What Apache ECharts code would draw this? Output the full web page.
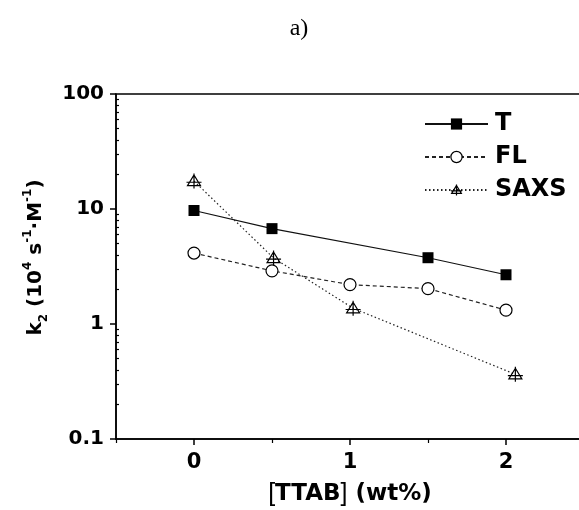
<!DOCTYPE html>
<html>
<head>
<meta charset="utf-8">
<script src="https://cdn.jsdelivr.net/npm/echarts@6/dist/echarts.min.js"></script>
<style>html,body{margin:0;padding:0;background:#fff}#c{width:579px;height:510px}</style>
</head>
<body>
<div id="c"></div>
<script>
// Data
const seriesNames = ['T', 'FL', 'SAXS'];
const tX = [0, 0.5, 1.5, 2];
const tY = [9.7, 6.75, 3.77, 2.68];
const flX = [0, 0.5, 1, 1.5, 2];
const flY = [4.14, 2.9, 2.2, 2.03, 1.32];
const saxsX = [0, 0.51, 1.02, 2.06];
const saxsY = [17.5, 3.75, 1.37, 0.365];
const xMajorTicks = [0, 1, 2];
const xMinorTicks = [-0.5, 0.5, 1.5, 2.5];
const yMajorTicks = [0.1, 1, 10, 100];
const yMinorTicks = [0.2,0.3,0.4,0.5,0.6,0.7,0.8,0.9,2,3,4,5,6,7,8,9,20,30,40,50,60,70,80,90];

const pair = (xs, ys) => xs.map((x, i) => [x, ys[i]]);
const FONT = '"DejaVu Sans", "Liberation Sans", Arial, sans-serif';
const chart = echarts.init(document.getElementById('c'), null, {renderer: 'canvas'});

const triPath = 'path://M0,-6L6.5,5L-6.5,5Z M0,-7.5L0,8 M-7.5,1.5L7.5,1.5';
const hollow = {color: 'rgba(255,255,255,0)', borderColor: '#000', borderWidth: 1.2};

chart.setOption({
  animation: false,
  backgroundColor: '#fff',
  title: {
    text: 'a)', left: 294, top: 12, textAlign: 'center',
    textStyle: {fontFamily: '"Liberation Serif", "Times New Roman", serif', fontSize: 24, fontWeight: 'normal', color: '#000'}
  },
  grid: {left: 116, right: -5, top: 94, bottom: 71, show: true, borderColor: '#000', borderWidth: 1.5, outerBoundsMode: 'none'},
  legend: {
    orient: 'vertical', left: 424, top: 112, padding: 0, itemWidth: 63, itemHeight: 14, itemGap: 9,
    textStyle: {fontFamily: FONT, fontSize: 24, fontWeight: 'bold', color: '#000', padding: [0, 0, 0, 2]},
    data: [
      {name: 'T'},
      {name: 'FL', itemStyle: {color: '#fff', borderColor: '#000', borderWidth: 1.2}},
      {name: 'SAXS', itemStyle: hollow}
    ]
  },
  xAxis: [{
    type: 'value', min: -0.5, max: 2.5, interval: 0.5,
    axisLine: {onZero: false, lineStyle: {color: '#000', width: 1.5}},
    axisTick: {customValues: xMajorTicks, length: 6, lineStyle: {color: '#000', width: 1.5}},
    axisLabel: {customValues: xMajorTicks, margin: 13, fontFamily: FONT, fontSize: 21, fontWeight: 'bold', color: '#000'},
    splitLine: {show: false},
    name: '{br|[}{b|TTAB}{br|]}{b| (wt%)}', nameLocation: 'middle', nameGap: 43,
    nameTextStyle: {
      rich: {
        b: {fontFamily: FONT, fontSize: 23, fontWeight: 'bold', color: '#000'},
        br: {fontFamily: '"Liberation Sans", Arial, sans-serif', fontSize: 25, fontWeight: 'normal', color: '#000'}
      }
    }
  }, {
    type: 'value', min: -0.5, max: 2.5, interval: 0.5, position: 'bottom',
    axisLine: {show: false, onZero: false},
    axisTick: {customValues: xMinorTicks, length: 4, lineStyle: {color: '#000', width: 1.2}},
    axisLabel: {show: false}, splitLine: {show: false}
  }],
  yAxis: [{
    type: 'log', logBase: 10, min: 0.1, max: 100,
    axisLine: {show: true, onZero: false, lineStyle: {color: '#000', width: 1.5}},
    axisTick: {show: true, customValues: yMajorTicks, length: 6, lineStyle: {color: '#000', width: 1.5}},
    axisLabel: {customValues: yMajorTicks, margin: 12, fontFamily: FONT, fontSize: 20, fontWeight: 'bold', color: '#000',
      formatter: v => String(v)},
    splitLine: {show: false},
    name: '{b|k}{sub|2}{b| (10}{sup|4}{b| s}{sup|-1}{b|·M}{sup|-1}{b|)}',
    nameLocation: 'middle', nameRotate: 90, nameGap: 66,
    nameTextStyle: {
      padding: [0, 0, 0, 18],
      rich: {
        b: {fontFamily: FONT, fontSize: 20, fontWeight: 'bold', color: '#000', lineHeight: 28, verticalAlign: 'middle'},
        sup: {fontFamily: FONT, fontSize: 12, fontWeight: 'bold', color: '#000', lineHeight: 28, verticalAlign: 'top'},
        sub: {fontFamily: FONT, fontSize: 12, fontWeight: 'bold', color: '#000', lineHeight: 28, verticalAlign: 'bottom'}
      }
    }
  }, {
    type: 'log', logBase: 10, min: 0.1, max: 100, position: 'left',
    axisLine: {show: false, onZero: false},
    axisTick: {show: true, customValues: yMinorTicks, inside: true, length: 3, lineStyle: {color: '#000', width: 1.2}},
    axisLabel: {show: false}, splitLine: {show: false}
  }],
  series: [{
    name: 'T', type: 'line', data: pair(tX, tY),
    symbol: 'rect', symbolSize: 11,
    lineStyle: {color: '#111', width: 1.2, type: 'solid'},
    itemStyle: {color: '#000', borderColor: '#000', borderWidth: 0}
  }, {
    name: 'FL', type: 'line', data: pair(flX, flY),
    symbol: 'circle', symbolSize: 12,
    lineStyle: {color: '#222', width: 1.2, type: [4, 3]},
    itemStyle: {color: '#fff', borderColor: '#000', borderWidth: 1.2}
  }, {
    name: 'SAXS', type: 'line', data: pair(saxsX, saxsY),
    symbol: triPath, symbolSize: 15,
    lineStyle: {color: '#222', width: 1.2, type: [1.5, 2.5]},
    itemStyle: hollow
  }]
});
</script>
</body>
</html>
